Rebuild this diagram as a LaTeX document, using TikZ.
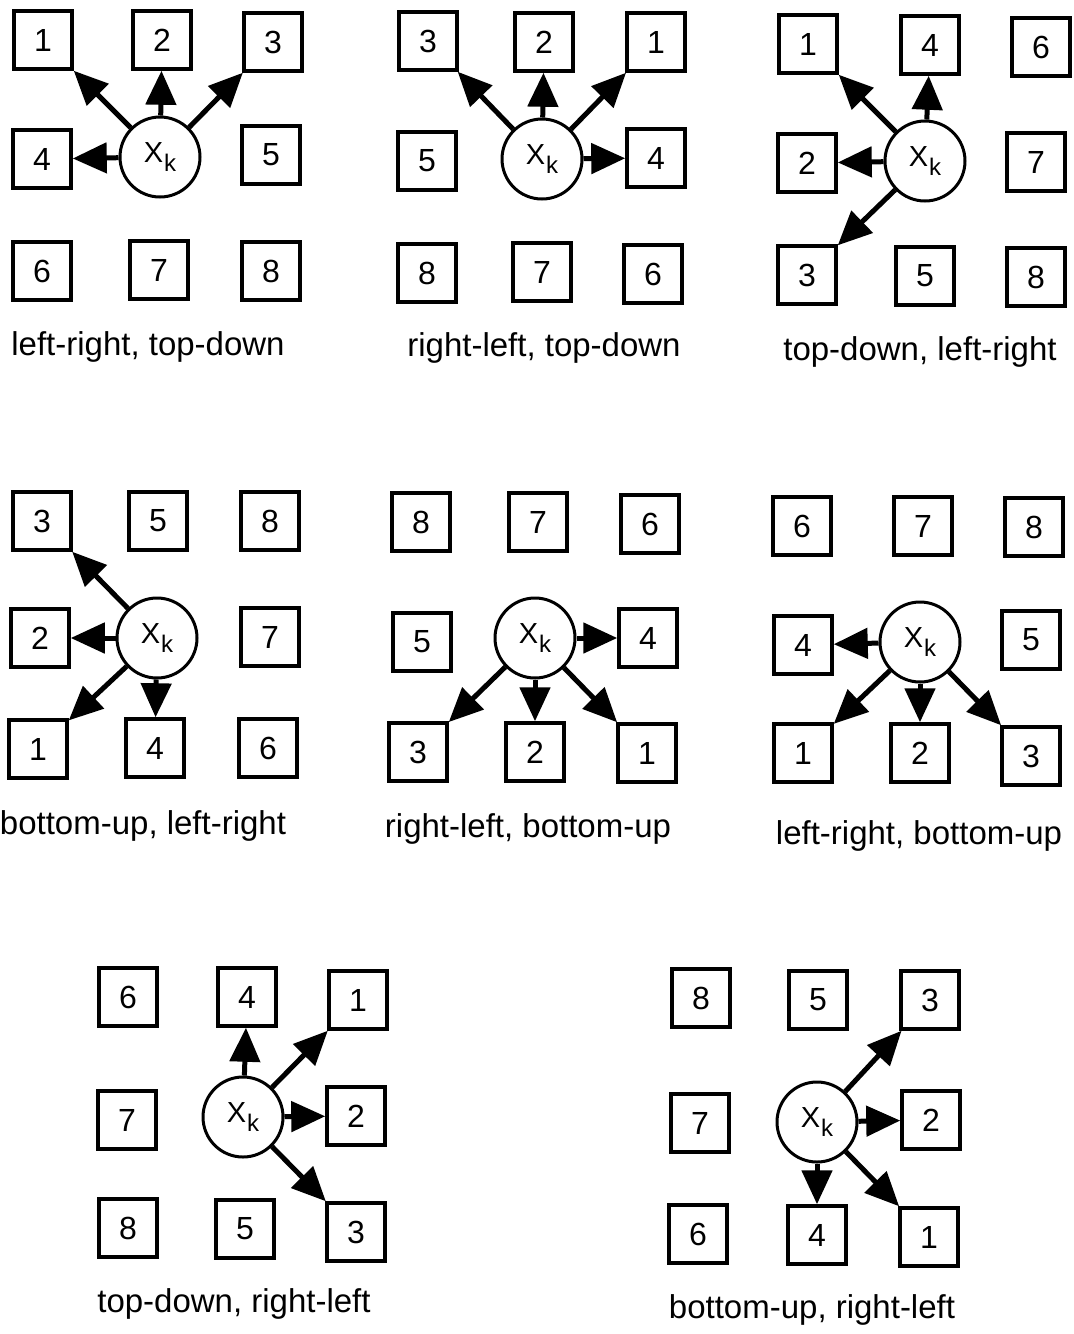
\documentclass[tikz,border=0pt]{standalone}
\usepackage{fontspec}
\setmainfont{Liberation Sans}
\usetikzlibrary{arrows.meta}

\begin{document}
\begin{tikzpicture}[x=1pt,y=-1pt,
    cbox/.style={draw,line width=3.5pt,minimum size=58pt,inner sep=0pt,font=\fontsize{32}{34}\selectfont},
    xk/.style={draw,circle,line width=3pt,minimum size=80pt,inner sep=0pt,font=\fontsize{29}{31}\selectfont},
    arr/.style={line width=5pt,-{Triangle[length=34pt,width=30pt]}},
    captext/.style={font=\fontsize{33}{36}\selectfont}]
  \newcommand\xk{X\kern1pt\raisebox{-9pt}{\fontsize{24}{26}\selectfont k}}
  \useasboundingbox (0,0) rectangle (1074,1334);
  % left-right, top-down
  \foreach \n/\x/\y in {1/43/40,2/162/40,3/273/42,4/42/159,5/271/155,6/42/271,7/159/270,8/271/271}
    \node[cbox] (lrtd\n) at (\x,\y) {\n};
  \node[xk] (lrtdx) at (160,157) {\xk};
  \foreach \t in {1,...,4} \draw[arr] (lrtdx) -- (lrtd\t);
  \node[captext] (lrtdcap) at (148,347) {left-right, top-down};
  % right-left, top-down
  \foreach \n/\x/\y in {3/428/41,2/544/42,1/656/42,5/427/161,4/656/158,8/427/273,7/542/272,6/653/274}
    \node[cbox] (rltd\n) at (\x,\y) {\n};
  \node[xk] (rltdx) at (542,159) {\xk};
  \foreach \t in {1,...,4} \draw[arr] (rltdx) -- (rltd\t);
  \node[captext] (rltdcap) at (544,348) {right-left, top-down};
  % top-down, left-right
  \foreach \n/\x/\y in {1/808/44,4/930/45,6/1041/47,2/807/163,7/1036/162,3/807/275,5/925/276,8/1036/277}
    \node[cbox] (tdlr\n) at (\x,\y) {\n};
  \node[xk] (tdlrx) at (925,161) {\xk};
  \foreach \t in {1,...,4} \draw[arr] (tdlrx) -- (tdlr\t);
  \node[captext] (tdlrcap) at (920,352) {top-down, left-right};
  % bottom-up, left-right
  \foreach \n/\x/\y in {3/42/521,5/158/521,8/270/521,2/40/638,7/270/637,1/38/749,4/155/748,6/268/748}
    \node[cbox] (bulr\n) at (\x,\y) {\n};
  \node[xk] (bulrx) at (157,638) {\xk};
  \foreach \t in {1,...,4} \draw[arr] (bulrx) -- (bulr\t);
  \node[captext] (bulrcap) at (143,826) {bottom-up, left-right};
  % right-left, bottom-up
  \foreach \n/\x/\y in {8/421/522,7/538/522,6/650/524,5/422/642,4/648/638,3/418/752,2/535/752,1/647/753}
    \node[cbox] (rlbu\n) at (\x,\y) {\n};
  \node[xk] (rlbux) at (535,638) {\xk};
  \foreach \t in {1,...,4} \draw[arr] (rlbux) -- (rlbu\t);
  \node[captext] (rlbucap) at (528,829) {right-left, bottom-up};
  % left-right, bottom-up
  \foreach \n/\x/\y in {6/802/526,7/923/526,8/1034/527,4/803/645,5/1031/640,1/803/753,2/920/753,3/1031/756}
    \node[cbox] (lrbu\n) at (\x,\y) {\n};
  \node[xk] (lrbux) at (920,642) {\xk};
  \foreach \t in {1,...,4} \draw[arr] (lrbux) -- (lrbu\t);
  \node[captext] (lrbucap) at (919,836) {left-right, bottom-up};
  % top-down, right-left
  \foreach \n/\x/\y in {6/128/997,4/247/997,1/358/1000,7/127/1120,2/356/1116,8/128/1228,5/245/1229,3/356/1232}
    \node[cbox] (tdrl\n) at (\x,\y) {\n};
  \node[xk] (tdrlx) at (243,1117) {\xk};
  \foreach \t in {1,...,4} \draw[arr] (tdrlx) -- (tdrl\t);
  \node[captext] (tdrlcap) at (234,1304) {top-down, right-left};
  % bottom-up, right-left
  \foreach \n/\x/\y in {8/701/998,5/818/1000,3/930/1000,7/700/1123,2/931/1120,6/698/1234,4/817/1235,1/929/1237}
    \node[cbox] (burl\n) at (\x,\y) {\n};
  \node[xk] (burlx) at (817,1122) {\xk};
  \foreach \t in {1,...,4} \draw[arr] (burlx) -- (burl\t);
  \node[captext] (burlcap) at (812,1310) {bottom-up, right-left};
\end{tikzpicture}
\end{document}
